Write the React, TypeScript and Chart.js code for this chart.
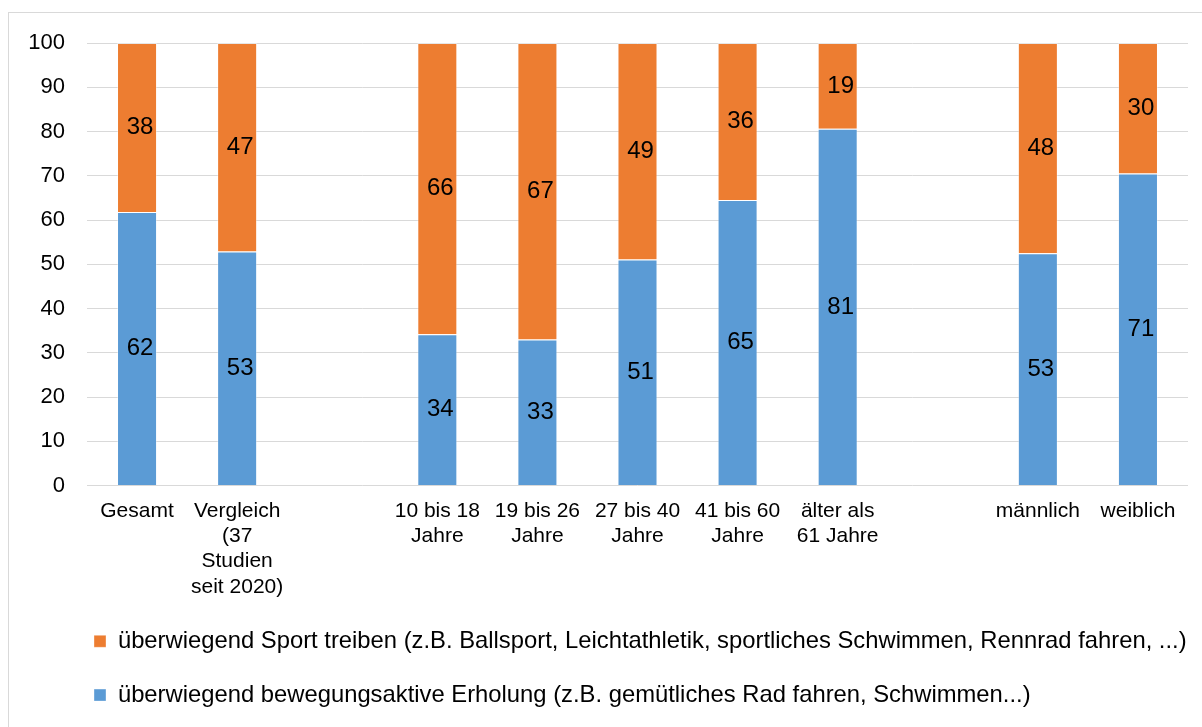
import React, { useEffect, useRef } from 'react';
import { Chart, registerables } from 'chart.js';

Chart.register(...registerables);

const categories: (string | string[])[] = [
  'Gesamt',
  ['Vergleich', '(37', 'Studien', 'seit 2020)'],
  '',
  ['10 bis 18', 'Jahre'],
  ['19 bis 26', 'Jahre'],
  ['27 bis 40', 'Jahre'],
  ['41 bis 60', 'Jahre'],
  ['älter als', '61 Jahre'],
  '',
  'männlich',
  'weiblich',
];

const erholungLabel = 'überwiegend bewegungsaktive Erholung (z.B. gemütliches Rad fahren, Schwimmen...)';
const sportLabel = 'überwiegend Sport treiben (z.B. Ballsport, Leichtathletik, sportliches Schwimmen, Rennrad fahren, ...)';

const erholungValues = [61.8, 52.9, null, 34.2, 33.0, 51.1, 64.5, 80.6, null, 52.5, 70.5];
const sportValues = [38.2, 47.1, null, 65.8, 67.0, 48.9, 35.5, 19.4, null, 47.5, 29.5];

const yMin = 0;
const yMax = 100;
const yStep = 10;

const FONT = '"Liberation Sans", Arial, sans-serif';
const LABEL_SIZE = 24;
const LEGEND_SIZE = 23.8;
const YTICK_SIZE = 22;
const XTICK_SIZE = 21;

const valueLabels = {
  id: 'valueLabels',
  afterDatasetsDraw(chart: any) {
    const ctx = chart.ctx;
    ctx.save();
    ctx.font = `${LABEL_SIZE}px ${FONT}`;
    ctx.fillStyle = '#000';
    ctx.textAlign = 'center';
    ctx.textBaseline = 'middle';
    chart.data.datasets.forEach((ds: any, di: number) => {
      const meta = chart.getDatasetMeta(di);
      meta.data.forEach((el: any, i: number) => {
        const v = ds.data[i];
        if (v == null) return;
        const { x, y, base } = el.getProps(['x', 'y', 'base'], true);
        ctx.fillText(String(Math.round(v)), x + 3, (y + base) / 2);
      });
    });
    ctx.restore();
  },
};

const legendShift = {
  id: 'legendShift',
  afterLayout(chart: any) {
    const l = chart.legend;
    if (!l) return;
    l.left += 44;
    l.right += 44;
    l.top -= 13;
    l.bottom -= 13;
  },
};

export default function App() {
  const ref = useRef<HTMLCanvasElement>(null);

  useEffect(() => {
    document.documentElement.style.overflow = 'hidden';
    document.body.style.overflow = 'hidden';
    const canvas = ref.current;
    if (!canvas) return;
    const chart = new Chart(canvas, {
      type: 'bar',
      data: {
        labels: categories as any,
        datasets: [
          {
            label: erholungLabel,
            data: erholungValues as any,
            backgroundColor: '#5B9BD5',
            borderColor: 'rgba(255,255,255,0.35)',
            borderWidth: 1,
            barPercentage: 0.4,
            categoryPercentage: 1,
          },
          {
            label: sportLabel,
            data: sportValues as any,
            backgroundColor: '#ED7D31',
            borderColor: 'rgba(255,255,255,0.35)',
            borderWidth: 1,
            barPercentage: 0.4,
            categoryPercentage: 1,
          },
        ],
      },
      options: {
        responsive: false,
        animation: false,
        layout: { padding: { left: 10, right: 22, top: 29, bottom: 0 } },
        scales: {
          x: {
            stacked: true,
            grid: { display: false, drawTicks: false },
            border: { display: false },
            ticks: {
              autoSkip: false,
              maxRotation: 0,
              minRotation: 0,
              padding: 13,
              color: '#000',
              font: { size: XTICK_SIZE, family: FONT },
            },
          },
          y: {
            stacked: true,
            min: yMin,
            max: yMax,
            grid: { color: '#d9d9d9', drawTicks: false },
            border: { display: false },
            ticks: {
              stepSize: yStep,
              padding: 22,
              color: '#000',
              font: { size: YTICK_SIZE, family: FONT },
            },
            afterFit: (axis: any) => {
              axis.width = 67;
              axis.paddingTop = 14;
              axis.paddingBottom = 14;
            },
          },
        },
        plugins: {
          legend: {
            position: 'bottom',
            align: 'start',
            reverse: true,
            labels: {
              boxWidth: 12,
              boxHeight: 12,
              padding: 30,
              color: '#000',
              font: { size: LEGEND_SIZE, family: FONT },
            },
          },
          tooltip: { enabled: false },
        },
      },
      plugins: [valueLabels, legendShift],
    });
    return () => chart.destroy();
  }, []);

  return (
    <div
      style={{
        position: 'absolute',
        left: 8,
        top: 12,
        width: 1220,
        height: 740,
        border: '1px solid #d9d9d9',
        background: '#fff',
      }}
    >
      <canvas ref={ref} width={1200} height={716} style={{ display: 'block', marginLeft: 1, marginTop: 1 }} />
    </div>
  );
}
